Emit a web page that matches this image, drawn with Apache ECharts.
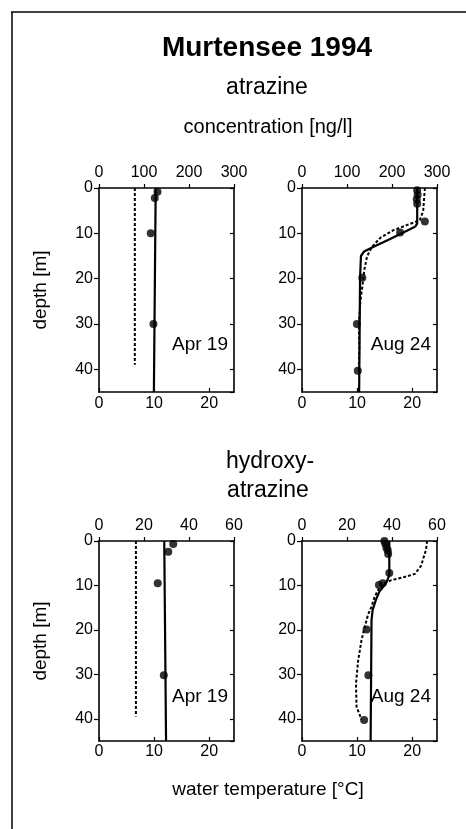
<!DOCTYPE html>
<html>
<head>
<meta charset="utf-8">
<script src="https://cdn.jsdelivr.net/npm/echarts@6/dist/echarts.min.js"></script>
<style>
html,body{margin:0;padding:0;background:#fff;}
#chart{width:466px;height:829px;}
</style>
</head>
<body>
<div id="chart"></div>
<script>
// ---------- DATA ----------
const depthTicks = [0, 10, 20, 30, 40];
const concTicksAtz = [0, 100, 200, 300];
const concTicksHy = [0, 20, 40, 60];
const tempTicks = [0, 10, 20];

// Atrazine, Apr 19
const atzAprTempDepth = [0, 39];
const atzAprTemp = [6.5, 6.5];
const atzAprModelDepth = [0, 45];
const atzAprModel = [126, 122];
const atzAprObsDepth = [0.8, 2.2, 10, 30];
const atzAprObs = [130, 124, 115, 121];

// Atrazine, Aug 24
const atzAugTempDepth = [0, 5, 7.1, 8.2, 9.3, 11, 13, 15.1, 18.1, 20.3, 25, 30, 35, 40.5];
const atzAugTemp = [22.3, 22.0, 21.4, 19.0, 16.6, 14.2, 12.7, 11.8, 11.3, 11.1, 10.6, 10.3, 10.4, 10.3];
const atzAugModelDepth = [0, 7.8, 8.5, 10, 11.5, 13, 14, 15, 20, 45];
const atzAugModel = [256, 256, 252, 222, 190, 158, 138, 131, 129, 127];
const atzAugObsDepth = [0.5, 1.5, 2.5, 3.5, 7.4, 9.8, 19.8, 30, 40.3];
const atzAugObs = [256, 257, 255, 256, 273, 218, 134, 122, 124];

// Hydroxyatrazine, Apr 19
const hyAprTempDepth = [0, 39.5];
const hyAprTemp = [6.7, 6.7];
const hyAprModelDepth = [0, 45];
const hyAprModel = [29.0, 29.8];
const hyAprObsDepth = [0.7, 2.4, 9.5, 30.2];
const hyAprObs = [33, 30.8, 26.1, 28.8];

// Hydroxyatrazine, Aug 24
const hyAugTempDepth = [0, 2, 5.6, 6.9, 7.4, 8.2, 8.8, 9.5, 10.4, 12.5, 14.8, 16.5, 19.3, 22.3, 26.8, 32.1, 37.3, 40.2];
const hyAugTemp = [22.7, 22.5, 21.6, 20.8, 20.5, 18.3, 16.2, 15.0, 14.1, 13.2, 12.6, 12.0, 11.4, 10.8, 10.2, 9.8, 9.9, 10.8];
const hyAugModelDepth = [0, 7.8, 9.5, 11.4, 13.3, 15.5, 17.8, 45];
const hyAugModel = [38.8, 38.8, 37.3, 34.4, 32.8, 31.4, 30.9, 30.5];
const hyAugObsDepth = [0, 0.6, 1.5, 2.1, 2.9, 7.2, 9.5, 9.9, 19.9, 30.2, 40.3];
const hyAugObs = [36.6, 37.0, 37.5, 38.1, 38.3, 38.8, 35.9, 34.2, 28.7, 29.5, 27.6];

// ---------- BUILD ----------
const FONT = '"Liberation Sans", Arial, Helvetica, sans-serif';
const pairs = (xs, ys) => xs.map((x, i) => [x, ys[i]]);

const panels = [
  {left: 99, top: 188, width: 135, height: 204, cmax: 300, cint: 100, tm: 7, bm: 4,
   temp: pairs(atzAprTemp, atzAprTempDepth), model: pairs(atzAprModel, atzAprModelDepth), obs: pairs(atzAprObs, atzAprObsDepth)},
  {left: 302, top: 188, width: 135, height: 204, cmax: 300, cint: 100, tm: 7, bm: 4,
   temp: pairs(atzAugTemp, atzAugTempDepth), model: pairs(atzAugModel, atzAugModelDepth), obs: pairs(atzAugObs, atzAugObsDepth)},
  {left: 99, top: 541, width: 135, height: 200, cmax: 60, cint: 20, tm: 7, bm: 3,
   temp: pairs(hyAprTemp, hyAprTempDepth), model: pairs(hyAprModel, hyAprModelDepth), obs: pairs(hyAprObs, hyAprObsDepth)},
  {left: 302, top: 541, width: 135, height: 200, cmax: 60, cint: 20, tm: 7, bm: 3,
   temp: pairs(hyAugTemp, hyAugTempDepth), model: pairs(hyAugModel, hyAugModelDepth), obs: pairs(hyAugObs, hyAugObsDepth)}
];

const axLine = {show: true, onZero: false, lineStyle: {color: '#000', width: 1.6}};
const lbl = (m, extra) => Object.assign({color: '#000', fontSize: 16, fontFamily: FONT, margin: m}, extra || {});

const grid = [], xAxis = [], yAxis = [], series = [];
panels.forEach((p, i) => {
  grid.push({left: p.left, top: p.top, width: p.width, height: p.height, containLabel: false});
  xAxis.push({type: 'value', gridIndex: i, position: 'top', min: 0, max: p.cmax, interval: p.cint,
    axisLine: axLine, splitLine: {show: false},
    axisTick: {show: true, inside: false, length: 4, lineStyle: {color: '#000', width: 1.2}},
    axisLabel: lbl(p.tm)});
  xAxis.push({type: 'value', gridIndex: i, position: 'bottom', min: 0, max: 24.5, interval: 10,
    axisLine: axLine, splitLine: {show: false},
    axisTick: {show: true, inside: true, length: 4, lineStyle: {color: '#000', width: 1.2}},
    axisLabel: lbl(p.bm, {showMaxLabel: false})});
  yAxis.push({type: 'value', gridIndex: i, position: 'left', inverse: true, min: 0, max: 45, interval: 10,
    axisLine: axLine, splitLine: {show: false},
    axisTick: {show: true, inside: false, length: 5, lineStyle: {color: '#000', width: 1.2}},
    axisLabel: lbl(6, {showMaxLabel: false})});
  yAxis.push({type: 'value', gridIndex: i, position: 'right', inverse: true, min: 0, max: 45, interval: 10,
    axisLine: axLine, splitLine: {show: false},
    axisTick: {show: true, inside: true, length: 4, lineStyle: {color: '#000', width: 1.2}},
    axisLabel: {show: false}});

  series.push({type: 'line', xAxisIndex: 2 * i + 1, yAxisIndex: 2 * i, data: p.temp, symbol: 'none',
    lineStyle: {color: '#000', width: 2, type: [3, 2]}, silent: true, z: 2});
  series.push({type: 'line', xAxisIndex: 2 * i, yAxisIndex: 2 * i, data: p.model, symbol: 'none',
    lineStyle: {color: '#000', width: 2.2, type: 'solid'}, silent: true, z: 3});
  series.push({type: 'scatter', xAxisIndex: 2 * i, yAxisIndex: 2 * i, data: p.obs, symbol: 'circle',
    symbolSize: 8, itemStyle: {color: '#000'}, silent: true, z: 4});
});

const txt = (x, y, text, size, opts) => Object.assign({
  type: 'text', x: x, y: y, silent: true,
  style: Object.assign({text: text, fill: '#000', font: (opts && opts.bold ? 'bold ' : '') + size + 'px ' + FONT,
    textAlign: (opts && opts.align) || 'center', textVerticalAlign: 'middle'})
}, opts && opts.rot ? {rotation: opts.rot} : {});

const graphic = [
  {type: 'line', shape: {x1: 11, y1: 12, x2: 466, y2: 12}, style: {stroke: '#000', lineWidth: 1.5}, silent: true},
  {type: 'line', shape: {x1: 12, y1: 12, x2: 12, y2: 829}, style: {stroke: '#000', lineWidth: 1.5}, silent: true},
  txt(267, 48, 'Murtensee 1994', 28, {bold: true}),
  txt(267, 88, 'atrazine', 23),
  txt(268, 127, 'concentration [ng/l]', 20),
  txt(41, 290, 'depth [m]', 19, {rot: Math.PI / 2}),
  txt(228, 345, 'Apr 19', 19, {align: 'right'}),
  txt(431, 345, 'Aug 24', 19, {align: 'right'}),
  txt(270, 462, 'hydroxy-', 23),
  txt(268, 491, 'atrazine', 23),
  txt(41, 641, 'depth [m]', 19, {rot: Math.PI / 2}),
  txt(228, 697, 'Apr 19', 19, {align: 'right'}),
  txt(431, 697, 'Aug 24', 19, {align: 'right'}),
  txt(268, 790, 'water temperature [°C]', 19)
];

const chart = echarts.init(document.getElementById('chart'), null, {renderer: 'canvas'});
chart.setOption({
  animation: false,
  backgroundColor: '#fff',
  textStyle: {fontFamily: FONT, color: '#000'},
  grid: grid, xAxis: xAxis, yAxis: yAxis, series: series, graphic: graphic
});
</script>
</body>
</html>
